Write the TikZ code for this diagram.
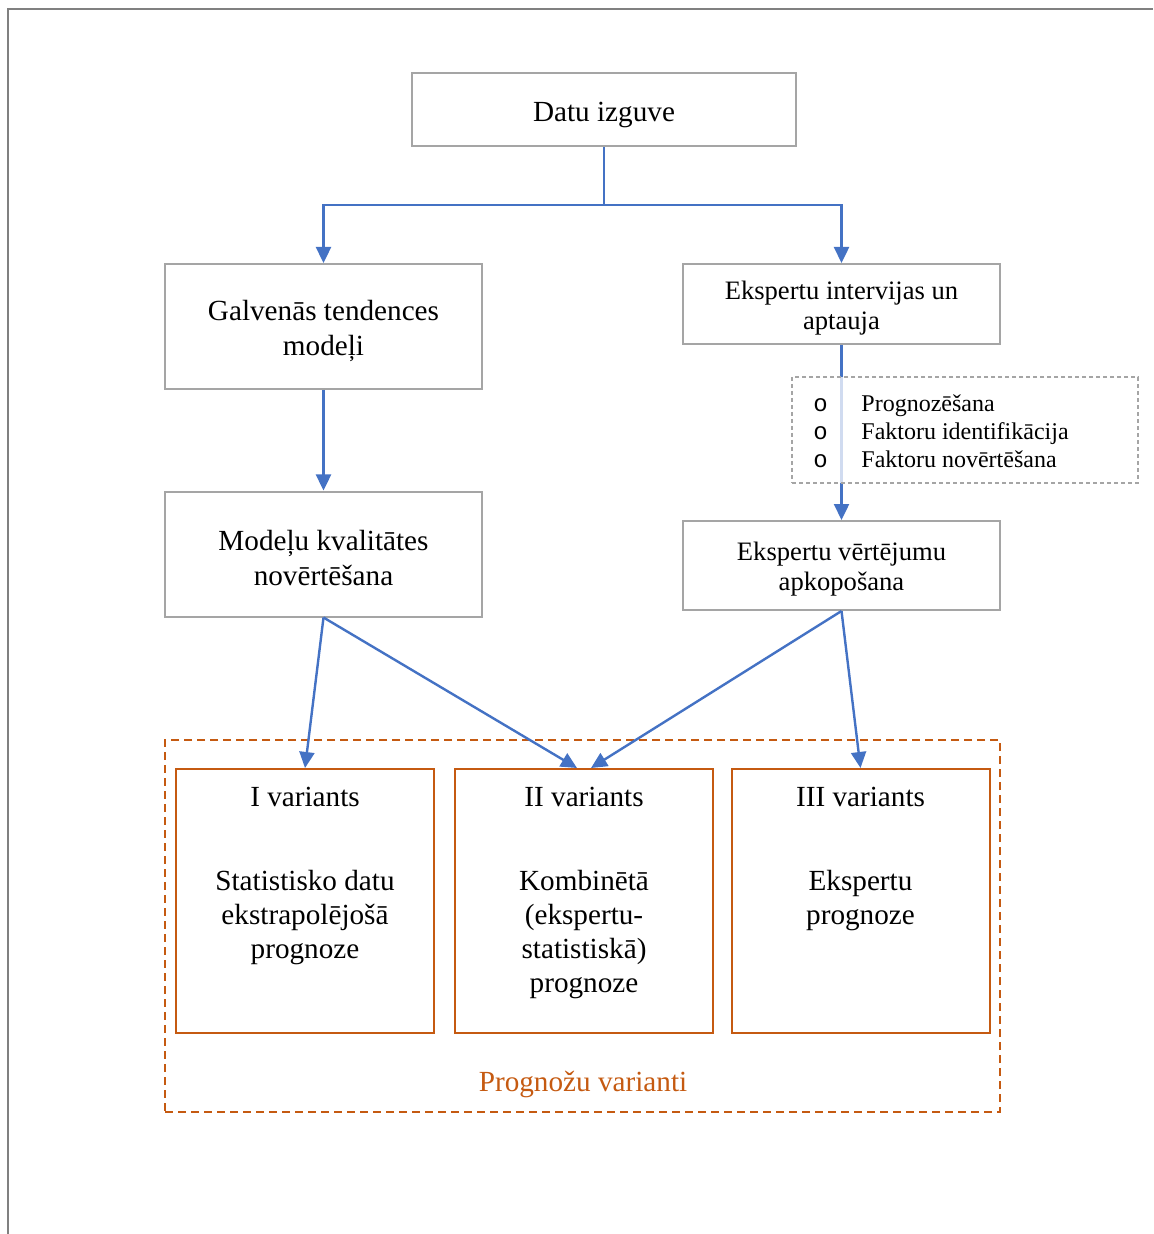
\documentclass[tikz,border=0pt]{standalone}
\usepackage{fontspec}
\setmainfont{Liberation Serif}
\newfontfamily\bulletfont{Liberation Mono}
\usetikzlibrary{arrows.meta,positioning,calc}
\definecolor{BoxGrey}{HTML}{A5A5A5}
\definecolor{LinkBlue}{HTML}{4472C4}
\definecolor{VarOrange}{HTML}{C55A11}
\definecolor{PageGrey}{HTML}{808080}
\newcommand{\capstrut}{\rule{0pt}{1em}}

\begin{document}
\begin{tikzpicture}[x=0.5pt,y=-0.5pt,
  box/.style={draw=BoxGrey,line width=1pt,align=center,inner sep=0pt,minimum width=158.5pt,font=\fontsize{14.6pt}{17.5pt}\selectfont},
  ebox/.style={box,font=\fontsize{13.3pt}{15pt}\selectfont},
  varbox/.style={draw=VarOrange,line width=1pt,minimum width=129pt,minimum height=132pt,inner sep=0pt},
  vtext/.style={align=center,inner sep=0pt,font=\fontsize{14.6pt}{17pt}\selectfont},
  arr/.style={-{Triangle[length=8pt,width=7.5pt]},LinkBlue,line width=1.2pt}
]
\useasboundingbox (0,0) rectangle (1153,1234);
\draw[PageGrey,line width=1pt] (8,1234) -- (8,9) -- (1153,9);

% top part
\node[box,minimum width=192pt,minimum height=36.5pt] (dz) at (604,110) {\capstrut Datu izguve};
\node[box,minimum height=62.5pt] (gt) at (323.5,326.5) {\capstrut Galvenās tendences\\modeļi};
\node[box,minimum height=62.5pt] (mk) at (323.5,554) {\capstrut Modeļu kvalitātes\\novērtēšana};
\node[ebox,minimum height=40pt] (ei) at (841.5,304) {\capstrut Ekspertu intervijas un\\aptauja};
\node[ebox,minimum height=44.5pt] (ev) at (841.5,565.5) {\capstrut Ekspertu vērtējumu\\apkopošana};

% variants
\node[draw=VarOrange,dashed,dash pattern=on 4pt off 2.5pt,line width=1pt,minimum width=417.5pt,minimum height=186pt,inner sep=0pt] (pv) at (582.5,926) {};
\node[text=VarOrange,vtext] (pvl) at (583,1084) {Prognožu varianti};
\node[varbox] (v1) at (305,901) {};
\node[varbox] (v2) at (584,901) {};
\node[varbox] (v3) at (860.5,901) {};
\node[vtext] (v1t) at (305,797) {I variants};
\node[vtext] (v2t) at (584,797) {II variants};
\node[vtext] (v3t) at (860.5,797) {III variants};
\node[vtext] (v1b) at (305,917.5) {Statistisko datu\\ekstrapolējošā\\prognoze};
\node[vtext] (v2b) at (584,934.5) {Kombinētā\\(ekspertu-\\statistiskā)\\prognoze};
\node[vtext] (v3b) at (860.5,900.5) {Ekspertu\\prognoze};

% connectors
\coordinate (sp) at (604,205);
\draw[arr] (dz.south) -- (sp) -| (gt.north);
\draw[arr] (sp) -| (ei.north);
\draw[arr] (gt) -- (mk);
\draw[arr] (ei) -- (ev);
\draw[arr] (mk.south) -- (v1.north);
\draw[arr] (mk.south) -- ($(v2.north)+(-7,0)$);
\draw[arr] (ev.south) -- ($(v2.north)+(7,0)$);
\draw[arr] (ev.south) -- (v3.north);

% list over the line
\node[draw=BoxGrey,dashed,dash pattern=on 2pt off 1.5pt,line width=0.8pt,fill=white,fill opacity=0.75,text opacity=1,minimum width=173pt,minimum height=53pt,inner sep=0pt] (lst) at (965,430) {};
\node[anchor=west,inner sep=0pt,font=\fontsize{12pt}{14pt}\selectfont] (lstt) at (813,434) {\begin{tabular}{@{}l@{\hspace{16.8pt}}l@{}}
{\bulletfont o} & Prognozēšana\\
{\bulletfont o} & Faktoru identifikācija\\
{\bulletfont o} & Faktoru novērtēšana
\end{tabular}};
\end{tikzpicture}
\end{document}
